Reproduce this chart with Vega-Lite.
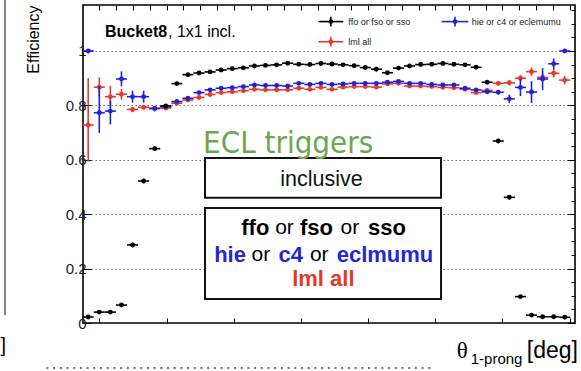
{
  "$schema": "https://vega.github.io/schema/vega-lite/v6.json",
  "width": 492,
  "height": 318,
  "autosize": {"type": "none"},
  "padding": {"left": 83, "top": 5, "right": 6, "bottom": 48},
  "background": "white",
  "config": {
    "view": {"stroke": "#000000", "strokeWidth": 1.6},
    "axis": {"domain": false, "tickColor": "#000000", "tickWidth": 1},
    "font": "Liberation Sans"
  },
  "datasets": {
    "k": [
      {"t":11.65,"t0":10.0,"t1":13.3,"e":0.022,"lo":0.016,"hi":0.028},
      {"t":14.95,"t0":13.3,"t1":16.6,"e":0.040,"lo":0.034,"hi":0.046},
      {"t":18.25,"t0":16.6,"t1":19.9,"e":0.040,"lo":0.034,"hi":0.046},
      {"t":21.55,"t0":19.9,"t1":23.2,"e":0.066,"lo":0.059,"hi":0.073},
      {"t":24.85,"t0":23.2,"t1":26.5,"e":0.287,"lo":0.279,"hi":0.295},
      {"t":28.15,"t0":26.5,"t1":29.8,"e":0.522,"lo":0.514,"hi":0.530},
      {"t":31.45,"t0":29.8,"t1":33.1,"e":0.641,"lo":0.633,"hi":0.649},
      {"t":34.75,"t0":33.1,"t1":36.4,"e":0.798,"lo":0.792,"hi":0.804},
      {"t":38.05,"t0":36.4,"t1":39.7,"e":0.880,"lo":0.875,"hi":0.885},
      {"t":41.35,"t0":39.7,"t1":43.0,"e":0.913,"lo":0.909,"hi":0.917},
      {"t":44.65,"t0":43.0,"t1":46.3,"e":0.919,"lo":0.915,"hi":0.923},
      {"t":47.95,"t0":46.3,"t1":49.6,"e":0.923,"lo":0.919,"hi":0.927},
      {"t":51.25,"t0":49.6,"t1":52.9,"e":0.930,"lo":0.926,"hi":0.934},
      {"t":54.55,"t0":52.9,"t1":56.2,"e":0.935,"lo":0.931,"hi":0.939},
      {"t":57.85,"t0":56.2,"t1":59.5,"e":0.938,"lo":0.934,"hi":0.942},
      {"t":61.15,"t0":59.5,"t1":62.8,"e":0.945,"lo":0.941,"hi":0.949},
      {"t":64.45,"t0":62.8,"t1":66.1,"e":0.947,"lo":0.943,"hi":0.951},
      {"t":67.75,"t0":66.1,"t1":69.4,"e":0.949,"lo":0.945,"hi":0.953},
      {"t":71.05,"t0":69.4,"t1":72.7,"e":0.955,"lo":0.951,"hi":0.959},
      {"t":74.35,"t0":72.7,"t1":76.0,"e":0.951,"lo":0.947,"hi":0.955},
      {"t":77.65,"t0":76.0,"t1":79.3,"e":0.950,"lo":0.946,"hi":0.954},
      {"t":80.95,"t0":79.3,"t1":82.6,"e":0.954,"lo":0.950,"hi":0.958},
      {"t":84.25,"t0":82.6,"t1":85.9,"e":0.952,"lo":0.948,"hi":0.956},
      {"t":87.55,"t0":85.9,"t1":89.2,"e":0.949,"lo":0.945,"hi":0.953},
      {"t":90.85,"t0":89.2,"t1":92.5,"e":0.946,"lo":0.942,"hi":0.950},
      {"t":94.15,"t0":92.5,"t1":95.8,"e":0.939,"lo":0.935,"hi":0.943},
      {"t":97.45,"t0":95.8,"t1":99.1,"e":0.933,"lo":0.929,"hi":0.937},
      {"t":100.75,"t0":99.1,"t1":102.4,"e":0.920,"lo":0.916,"hi":0.924},
      {"t":104.05,"t0":102.4,"t1":105.7,"e":0.937,"lo":0.933,"hi":0.941},
      {"t":107.35,"t0":105.7,"t1":109.0,"e":0.945,"lo":0.941,"hi":0.949},
      {"t":110.65,"t0":109.0,"t1":112.3,"e":0.950,"lo":0.946,"hi":0.954},
      {"t":113.95,"t0":112.3,"t1":115.6,"e":0.951,"lo":0.947,"hi":0.955},
      {"t":117.25,"t0":115.6,"t1":118.9,"e":0.954,"lo":0.950,"hi":0.958},
      {"t":120.55,"t0":118.9,"t1":122.2,"e":0.951,"lo":0.947,"hi":0.955},
      {"t":123.85,"t0":122.2,"t1":125.5,"e":0.949,"lo":0.945,"hi":0.953},
      {"t":127.15,"t0":125.5,"t1":128.8,"e":0.940,"lo":0.936,"hi":0.944},
      {"t":130.45,"t0":128.8,"t1":132.1,"e":0.885,"lo":0.879,"hi":0.891},
      {"t":133.75,"t0":132.1,"t1":135.4,"e":0.669,"lo":0.661,"hi":0.677},
      {"t":137.05,"t0":135.4,"t1":138.7,"e":0.462,"lo":0.454,"hi":0.470},
      {"t":140.35,"t0":138.7,"t1":142.0,"e":0.097,"lo":0.091,"hi":0.103},
      {"t":143.65,"t0":142.0,"t1":145.3,"e":0.029,"lo":0.024,"hi":0.034},
      {"t":146.95,"t0":145.3,"t1":148.6,"e":0.023,"lo":0.018,"hi":0.028},
      {"t":150.25,"t0":148.6,"t1":151.9,"e":0.023,"lo":0.018,"hi":0.028},
      {"t":153.55,"t0":151.9,"t1":155.2,"e":0.021,"lo":0.016,"hi":0.026}
    ],
    "b": [
      {"t":11.65,"t0":10.0,"t1":13.3,"e":1.000,"lo":1.000,"hi":1.000},
      {"t":14.95,"t0":13.3,"t1":16.6,"e":0.773,"lo":0.698,"hi":0.871},
      {"t":18.25,"t0":16.6,"t1":19.9,"e":0.779,"lo":0.730,"hi":0.818},
      {"t":21.55,"t0":19.9,"t1":23.2,"e":0.897,"lo":0.870,"hi":0.925},
      {"t":24.85,"t0":23.2,"t1":26.5,"e":0.832,"lo":0.810,"hi":0.854},
      {"t":28.15,"t0":26.5,"t1":29.8,"e":0.832,"lo":0.810,"hi":0.854},
      {"t":31.45,"t0":29.8,"t1":33.1,"e":0.788,"lo":0.778,"hi":0.798},
      {"t":34.75,"t0":33.1,"t1":36.4,"e":0.795,"lo":0.789,"hi":0.801},
      {"t":38.05,"t0":36.4,"t1":39.7,"e":0.814,"lo":0.809,"hi":0.819},
      {"t":41.35,"t0":39.7,"t1":43.0,"e":0.826,"lo":0.822,"hi":0.830},
      {"t":44.65,"t0":43.0,"t1":46.3,"e":0.847,"lo":0.843,"hi":0.851},
      {"t":47.95,"t0":46.3,"t1":49.6,"e":0.857,"lo":0.853,"hi":0.861},
      {"t":51.25,"t0":49.6,"t1":52.9,"e":0.863,"lo":0.859,"hi":0.867},
      {"t":54.55,"t0":52.9,"t1":56.2,"e":0.865,"lo":0.861,"hi":0.869},
      {"t":57.85,"t0":56.2,"t1":59.5,"e":0.869,"lo":0.865,"hi":0.873},
      {"t":61.15,"t0":59.5,"t1":62.8,"e":0.875,"lo":0.871,"hi":0.879},
      {"t":64.45,"t0":62.8,"t1":66.1,"e":0.873,"lo":0.869,"hi":0.877},
      {"t":67.75,"t0":66.1,"t1":69.4,"e":0.873,"lo":0.869,"hi":0.877},
      {"t":71.05,"t0":69.4,"t1":72.7,"e":0.871,"lo":0.867,"hi":0.875},
      {"t":74.35,"t0":72.7,"t1":76.0,"e":0.881,"lo":0.877,"hi":0.885},
      {"t":77.65,"t0":76.0,"t1":79.3,"e":0.877,"lo":0.873,"hi":0.881},
      {"t":80.95,"t0":79.3,"t1":82.6,"e":0.881,"lo":0.877,"hi":0.885},
      {"t":84.25,"t0":82.6,"t1":85.9,"e":0.877,"lo":0.873,"hi":0.881},
      {"t":87.55,"t0":85.9,"t1":89.2,"e":0.879,"lo":0.875,"hi":0.883},
      {"t":90.85,"t0":89.2,"t1":92.5,"e":0.881,"lo":0.877,"hi":0.885},
      {"t":94.15,"t0":92.5,"t1":95.8,"e":0.881,"lo":0.877,"hi":0.885},
      {"t":97.45,"t0":95.8,"t1":99.1,"e":0.881,"lo":0.877,"hi":0.885},
      {"t":100.75,"t0":99.1,"t1":102.4,"e":0.885,"lo":0.881,"hi":0.889},
      {"t":104.05,"t0":102.4,"t1":105.7,"e":0.888,"lo":0.884,"hi":0.892},
      {"t":107.35,"t0":105.7,"t1":109.0,"e":0.881,"lo":0.877,"hi":0.885},
      {"t":110.65,"t0":109.0,"t1":112.3,"e":0.881,"lo":0.877,"hi":0.885},
      {"t":113.95,"t0":112.3,"t1":115.6,"e":0.877,"lo":0.873,"hi":0.881},
      {"t":117.25,"t0":115.6,"t1":118.9,"e":0.875,"lo":0.871,"hi":0.879},
      {"t":120.55,"t0":118.9,"t1":122.2,"e":0.875,"lo":0.871,"hi":0.879},
      {"t":123.85,"t0":122.2,"t1":125.5,"e":0.863,"lo":0.859,"hi":0.867},
      {"t":127.15,"t0":125.5,"t1":128.8,"e":0.857,"lo":0.852,"hi":0.862},
      {"t":130.45,"t0":128.8,"t1":132.1,"e":0.850,"lo":0.844,"hi":0.856},
      {"t":133.75,"t0":132.1,"t1":135.4,"e":0.848,"lo":0.840,"hi":0.856},
      {"t":137.05,"t0":135.4,"t1":138.7,"e":0.824,"lo":0.809,"hi":0.839},
      {"t":140.35,"t0":138.7,"t1":142.0,"e":0.866,"lo":0.834,"hi":0.898},
      {"t":143.65,"t0":142.0,"t1":145.3,"e":0.849,"lo":0.809,"hi":0.889},
      {"t":146.95,"t0":145.3,"t1":148.6,"e":0.897,"lo":0.857,"hi":0.937},
      {"t":150.25,"t0":148.6,"t1":151.9,"e":0.953,"lo":0.933,"hi":0.973},
      {"t":153.55,"t0":151.9,"t1":155.2,"e":1.000,"lo":1.000,"hi":1.000}
    ],
    "r": [
      {"t":11.65,"t0":10.0,"t1":13.3,"e":0.728,"lo":0.593,"hi":0.900},
      {"t":14.95,"t0":13.3,"t1":16.6,"e":0.867,"lo":0.832,"hi":0.903},
      {"t":18.25,"t0":16.6,"t1":19.9,"e":0.832,"lo":0.792,"hi":0.872},
      {"t":21.55,"t0":19.9,"t1":23.2,"e":0.841,"lo":0.821,"hi":0.861},
      {"t":24.85,"t0":23.2,"t1":26.5,"e":0.785,"lo":0.775,"hi":0.795},
      {"t":28.15,"t0":26.5,"t1":29.8,"e":0.793,"lo":0.785,"hi":0.801},
      {"t":31.45,"t0":29.8,"t1":33.1,"e":0.790,"lo":0.784,"hi":0.796},
      {"t":34.75,"t0":33.1,"t1":36.4,"e":0.790,"lo":0.785,"hi":0.795},
      {"t":38.05,"t0":36.4,"t1":39.7,"e":0.808,"lo":0.804,"hi":0.812},
      {"t":41.35,"t0":39.7,"t1":43.0,"e":0.820,"lo":0.816,"hi":0.824},
      {"t":44.65,"t0":43.0,"t1":46.3,"e":0.829,"lo":0.825,"hi":0.833},
      {"t":47.95,"t0":46.3,"t1":49.6,"e":0.840,"lo":0.836,"hi":0.844},
      {"t":51.25,"t0":49.6,"t1":52.9,"e":0.847,"lo":0.843,"hi":0.851},
      {"t":54.55,"t0":52.9,"t1":56.2,"e":0.850,"lo":0.846,"hi":0.854},
      {"t":57.85,"t0":56.2,"t1":59.5,"e":0.854,"lo":0.850,"hi":0.858},
      {"t":61.15,"t0":59.5,"t1":62.8,"e":0.859,"lo":0.855,"hi":0.863},
      {"t":64.45,"t0":62.8,"t1":66.1,"e":0.857,"lo":0.853,"hi":0.861},
      {"t":67.75,"t0":66.1,"t1":69.4,"e":0.857,"lo":0.853,"hi":0.861},
      {"t":71.05,"t0":69.4,"t1":72.7,"e":0.857,"lo":0.853,"hi":0.861},
      {"t":74.35,"t0":72.7,"t1":76.0,"e":0.863,"lo":0.859,"hi":0.867},
      {"t":77.65,"t0":76.0,"t1":79.3,"e":0.859,"lo":0.855,"hi":0.863},
      {"t":80.95,"t0":79.3,"t1":82.6,"e":0.866,"lo":0.862,"hi":0.870},
      {"t":84.25,"t0":82.6,"t1":85.9,"e":0.859,"lo":0.855,"hi":0.863},
      {"t":87.55,"t0":85.9,"t1":89.2,"e":0.867,"lo":0.863,"hi":0.871},
      {"t":90.85,"t0":89.2,"t1":92.5,"e":0.869,"lo":0.865,"hi":0.873},
      {"t":94.15,"t0":92.5,"t1":95.8,"e":0.869,"lo":0.865,"hi":0.873},
      {"t":97.45,"t0":95.8,"t1":99.1,"e":0.867,"lo":0.863,"hi":0.871},
      {"t":100.75,"t0":99.1,"t1":102.4,"e":0.879,"lo":0.875,"hi":0.883},
      {"t":104.05,"t0":102.4,"t1":105.7,"e":0.881,"lo":0.877,"hi":0.885},
      {"t":107.35,"t0":105.7,"t1":109.0,"e":0.871,"lo":0.867,"hi":0.875},
      {"t":110.65,"t0":109.0,"t1":112.3,"e":0.871,"lo":0.867,"hi":0.875},
      {"t":113.95,"t0":112.3,"t1":115.6,"e":0.869,"lo":0.865,"hi":0.873},
      {"t":117.25,"t0":115.6,"t1":118.9,"e":0.866,"lo":0.862,"hi":0.870},
      {"t":120.55,"t0":118.9,"t1":122.2,"e":0.865,"lo":0.861,"hi":0.869},
      {"t":123.85,"t0":122.2,"t1":125.5,"e":0.859,"lo":0.855,"hi":0.863},
      {"t":127.15,"t0":125.5,"t1":128.8,"e":0.847,"lo":0.842,"hi":0.852},
      {"t":130.45,"t0":128.8,"t1":132.1,"e":0.855,"lo":0.849,"hi":0.861},
      {"t":133.75,"t0":132.1,"t1":135.4,"e":0.881,"lo":0.873,"hi":0.889},
      {"t":137.05,"t0":135.4,"t1":138.7,"e":0.883,"lo":0.873,"hi":0.893},
      {"t":140.35,"t0":138.7,"t1":142.0,"e":0.900,"lo":0.888,"hi":0.912},
      {"t":143.65,"t0":142.0,"t1":145.3,"e":0.924,"lo":0.909,"hi":0.939},
      {"t":146.95,"t0":145.3,"t1":148.6,"e":0.903,"lo":0.888,"hi":0.918},
      {"t":150.25,"t0":148.6,"t1":151.9,"e":0.918,"lo":0.903,"hi":0.933},
      {"t":153.55,"t0":151.9,"t1":155.2,"e":0.893,"lo":0.878,"hi":0.908}
    ]
  },
  "resolve": {"axis": {"x": "independent", "y": "independent"}},
  "layer": [
    {
      "layer": [
        {
          "data": {"name": "r"},
          "mark": {"type": "rule", "color": "#e63a30", "strokeWidth": 1.6},
          "encoding": {
            "x": {"field": "t0", "type": "quantitative",
              "scale": {"domain": [10.1, 156.6], "nice": false, "zero": false},
              "axis": {"orient": "bottom", "values": [15,20,25,30,35,40,45,50,55,60,65,70,75,80,85,90,95,100,105,110,115,120,125,130,135,140,145,150,155],
                "labels": false, "grid": false, "tickSize": -5, "title": null}},
            "x2": {"field": "t1"},
            "y": {"field": "e", "type": "quantitative",
              "scale": {"domain": [0, 1.169], "nice": false, "zero": false},
              "axis": {"orient": "left",
                "values": [0,0.05,0.1,0.15,0.2,0.25,0.3,0.35,0.4,0.45,0.5,0.55,0.6,0.65,0.7,0.75,0.8,0.85,0.9,0.95,1,1.05,1.1,1.15],
                "labelExpr": "abs(datum.value*5 - round(datum.value*5)) < 0.001 ? format(datum.value, '~g') : ''",
                "labelFontSize": 15, "labelColor": "#1a1a1a", "labelPadding": 5,
                "tickSize": {"condition": {"test": "abs(datum.value*5 - round(datum.value*5)) < 0.001", "value": -8}, "value": -4},
                "grid": true, "gridColor": "#777777", "gridDash": [1.5, 2.5], "gridWidth": 1,
                "gridOpacity": {"condition": {"test": "abs(datum.value*10 - round(datum.value*10)) < 0.001 && datum.value > 0.05 && datum.value < 1.05", "value": 1}, "value": 0},
                "title": "Efficiency", "titleFontSize": 16, "titleFontWeight": "normal", "titleColor": "#000000",
                "titleAnchor": "end", "titlePadding": 24}}
          }
        },
        {
          "data": {"name": "r"},
          "mark": {"type": "rule", "color": "#e63a30", "strokeWidth": 1.6},
          "encoding": {"x": {"field": "t", "type": "quantitative"}, "y": {"field": "lo", "type": "quantitative"}, "y2": {"field": "hi"}}
        },
        {
          "data": {"name": "r"},
          "mark": {"type": "point", "filled": true, "size": 24, "opacity": 1, "color": "#e63a30"},
          "encoding": {"x": {"field": "t", "type": "quantitative"}, "y": {"field": "e", "type": "quantitative"}}
        },
        {
          "data": {"name": "b"},
          "mark": {"type": "rule", "color": "#1f22d8", "strokeWidth": 1.6},
          "encoding": {"x": {"field": "t0", "type": "quantitative"}, "x2": {"field": "t1"}, "y": {"field": "e", "type": "quantitative"}}
        },
        {
          "data": {"name": "b"},
          "mark": {"type": "rule", "color": "#1f22d8", "strokeWidth": 1.6},
          "encoding": {"x": {"field": "t", "type": "quantitative"}, "y": {"field": "lo", "type": "quantitative"}, "y2": {"field": "hi"}}
        },
        {
          "data": {"name": "b"},
          "mark": {"type": "point", "filled": true, "size": 24, "opacity": 1, "color": "#1f22d8"},
          "encoding": {"x": {"field": "t", "type": "quantitative"}, "y": {"field": "e", "type": "quantitative"}}
        },
        {
          "data": {"name": "k"},
          "mark": {"type": "rule", "color": "#000000", "strokeWidth": 1.6},
          "encoding": {"x": {"field": "t0", "type": "quantitative"}, "x2": {"field": "t1"}, "y": {"field": "e", "type": "quantitative"}}
        },
        {
          "data": {"name": "k"},
          "mark": {"type": "rule", "color": "#000000", "strokeWidth": 1.6},
          "encoding": {"x": {"field": "t", "type": "quantitative"}, "y": {"field": "lo", "type": "quantitative"}, "y2": {"field": "hi"}}
        },
        {
          "data": {"name": "k"},
          "mark": {"type": "point", "filled": true, "size": 24, "opacity": 1, "color": "#000000"},
          "encoding": {"x": {"field": "t", "type": "quantitative"}, "y": {"field": "e", "type": "quantitative"}}
        },
        {
          "data": {"values": [{}]},
          "mark": {"type": "rect", "fill": "white", "stroke": "#111111", "strokeWidth": 2},
          "encoding": {"x": {"datum": 46.43}, "x2": {"datum": 116.71}, "y": {"datum": 0.607}, "y2": {"datum": 0.460}}
        },
        {
          "data": {"values": [{}]},
          "mark": {"type": "rect", "fill": "white", "stroke": "#111111", "strokeWidth": 2},
          "encoding": {"x": {"datum": 46.43}, "x2": {"datum": 116.71}, "y": {"datum": 0.423}, "y2": {"datum": 0.088}}
        },
        {
          "data": {"values": [{}]},
          "mark": {"type": "text", "text": "inclusive", "fontSize": 21.5, "color": "#111111", "align": "center", "baseline": "middle"},
          "encoding": {"x": {"datum": 81.1}, "y": {"datum": 0.526}}
        },
        {
          "data": {"values": [{}]},
          "mark": {"type": "text", "text": "ffo", "fontSize": 22, "fontWeight": "bold", "color": "#000000", "align": "center", "baseline": "middle"},
          "encoding": {"x": {"datum": 61.41}, "y": {"datum": 0.349}}
        },
        {
          "data": {"values": [{}]},
          "mark": {"type": "text", "text": "or", "fontSize": 21, "color": "#000000", "align": "center", "baseline": "middle"},
          "encoding": {"x": {"datum": 70.11}, "y": {"datum": 0.349}}
        },
        {
          "data": {"values": [{}]},
          "mark": {"type": "text", "text": "fso", "fontSize": 22, "fontWeight": "bold", "color": "#000000", "align": "center", "baseline": "middle"},
          "encoding": {"x": {"datum": 79.64}, "y": {"datum": 0.349}}
        },
        {
          "data": {"values": [{}]},
          "mark": {"type": "text", "text": "or", "fontSize": 21, "color": "#000000", "align": "center", "baseline": "middle"},
          "encoding": {"x": {"datum": 89.56}, "y": {"datum": 0.349}}
        },
        {
          "data": {"values": [{}]},
          "mark": {"type": "text", "text": "sso", "fontSize": 22, "fontWeight": "bold", "color": "#000000", "align": "center", "baseline": "middle"},
          "encoding": {"x": {"datum": 100.63}, "y": {"datum": 0.349}}
        },
        {
          "data": {"values": [{}]},
          "mark": {"type": "text", "text": "hie", "fontSize": 22, "fontWeight": "bold", "color": "#1f2ad0", "align": "center", "baseline": "middle"},
          "encoding": {"x": {"datum": 53.88}, "y": {"datum": 0.250}}
        },
        {
          "data": {"values": [{}]},
          "mark": {"type": "text", "text": "or", "fontSize": 21, "color": "#000000", "align": "center", "baseline": "middle"},
          "encoding": {"x": {"datum": 63.05}, "y": {"datum": 0.250}}
        },
        {
          "data": {"values": [{}]},
          "mark": {"type": "text", "text": "c4", "fontSize": 22, "fontWeight": "bold", "color": "#1f2ad0", "align": "center", "baseline": "middle"},
          "encoding": {"x": {"datum": 71.98}, "y": {"datum": 0.250}}
        },
        {
          "data": {"values": [{}]},
          "mark": {"type": "text", "text": "or", "fontSize": 21, "color": "#000000", "align": "center", "baseline": "middle"},
          "encoding": {"x": {"datum": 80.44}, "y": {"datum": 0.250}}
        },
        {
          "data": {"values": [{}]},
          "mark": {"type": "text", "text": "eclmumu", "fontSize": 22, "fontWeight": "bold", "color": "#1f2ad0", "align": "center", "baseline": "middle"},
          "encoding": {"x": {"datum": 100.03}, "y": {"datum": 0.250}}
        },
        {
          "data": {"values": [{}]},
          "mark": {"type": "text", "text": "lml all", "fontSize": 22, "fontWeight": "bold", "color": "#e03a2e", "align": "center", "baseline": "middle"},
          "encoding": {"x": {"datum": 81.66}, "y": {"datum": 0.162}}
        },
        {
          "data": {"values": [{}]},
          "mark": {"type": "text", "text": "ECL triggers", "font": "DejaVu Sans Condensed, Liberation Sans, sans-serif", "fontSize": 31, "color": "#6aa84f", "align": "left", "baseline": "alphabetic"},
          "encoding": {"x": {"datum": 45.84}, "y": {"datum": 0.625}}
        },
        {
          "data": {"values": [{}]},
          "mark": {"type": "text", "text": "Bucket8", "fontSize": 16, "fontWeight": "bold", "color": "#000000", "align": "left", "baseline": "middle"},
          "encoding": {"x": {"datum": 16.65}, "y": {"datum": 1.071}}
        },
        {
          "data": {"values": [{}]},
          "mark": {"type": "text", "text": ", 1x1 incl.", "fontSize": 16, "color": "#000000", "align": "left", "baseline": "middle"},
          "encoding": {"x": {"datum": 35.41}, "y": {"datum": 1.071}}
        },
        {
          "data": {"values": [{}]},
          "mark": {"type": "rule", "color": "#000000", "strokeWidth": 1.6},
          "encoding": {"x": {"datum": 80.17}, "x2": {"datum": 87.62}, "y": {"datum": 1.108}}
        },
        {
          "data": {"values": [{}]},
          "mark": {"type": "rule", "color": "#000000", "strokeWidth": 1.6},
          "encoding": {"x": {"datum": 83.9}, "y": {"datum": 1.09}, "y2": {"datum": 1.126}}
        },
        {
          "data": {"values": [{}]},
          "mark": {"type": "point", "filled": true, "size": 24, "opacity": 1, "color": "#000000"},
          "encoding": {"x": {"datum": 83.9}, "y": {"datum": 1.108}}
        },
        {
          "data": {"values": [{}]},
          "mark": {"type": "text", "text": "ffo or fso or sso", "fontSize": 9, "color": "#222222", "align": "left", "baseline": "middle"},
          "encoding": {"x": {"datum": 89.1}, "y": {"datum": 1.108}}
        },
        {
          "data": {"values": [{}]},
          "mark": {"type": "rule", "color": "#e63a30", "strokeWidth": 1.6},
          "encoding": {"x": {"datum": 80.17}, "x2": {"datum": 87.62}, "y": {"datum": 1.034}}
        },
        {
          "data": {"values": [{}]},
          "mark": {"type": "rule", "color": "#e63a30", "strokeWidth": 1.6},
          "encoding": {"x": {"datum": 83.9}, "y": {"datum": 1.016}, "y2": {"datum": 1.052}}
        },
        {
          "data": {"values": [{}]},
          "mark": {"type": "point", "filled": true, "size": 24, "opacity": 1, "color": "#e63a30"},
          "encoding": {"x": {"datum": 83.9}, "y": {"datum": 1.034}}
        },
        {
          "data": {"values": [{}]},
          "mark": {"type": "text", "text": "lml all", "fontSize": 9, "color": "#222222", "align": "left", "baseline": "middle"},
          "encoding": {"x": {"datum": 89.1}, "y": {"datum": 1.034}}
        },
        {
          "data": {"values": [{}]},
          "mark": {"type": "rule", "color": "#1f22d8", "strokeWidth": 1.6},
          "encoding": {"x": {"datum": 116.92}, "x2": {"datum": 124.84}, "y": {"datum": 1.108}}
        },
        {
          "data": {"values": [{}]},
          "mark": {"type": "rule", "color": "#1f22d8", "strokeWidth": 1.6},
          "encoding": {"x": {"datum": 120.88}, "y": {"datum": 1.09}, "y2": {"datum": 1.126}}
        },
        {
          "data": {"values": [{}]},
          "mark": {"type": "point", "filled": true, "size": 24, "opacity": 1, "color": "#1f22d8"},
          "encoding": {"x": {"datum": 120.88}, "y": {"datum": 1.108}}
        },
        {
          "data": {"values": [{}]},
          "mark": {"type": "text", "text": "hie or c4 or eclemumu", "fontSize": 9, "color": "#222222", "align": "left", "baseline": "middle"},
          "encoding": {"x": {"datum": 125.85}, "y": {"datum": 1.108}}
        },
        {
          "data": {"values": [{}]},
          "mark": {"type": "text", "text": "θ", "font": "Liberation Serif", "fontSize": 23, "color": "#000000", "align": "left", "baseline": "alphabetic"},
          "encoding": {"x": {"datum": 121.38}, "y": {"datum": -0.129}}
        },
        {
          "data": {"values": [{}]},
          "mark": {"type": "text", "text": "1-prong", "fontSize": 15, "color": "#000000", "align": "left", "baseline": "alphabetic"},
          "encoding": {"x": {"datum": 125.55}, "y": {"datum": -0.151}}
        },
        {
          "data": {"values": [{}]},
          "mark": {"type": "text", "text": "[deg]", "fontSize": 23, "color": "#000000", "align": "left", "baseline": "alphabetic"},
          "encoding": {"x": {"datum": 142.23}, "y": {"datum": -0.129}}
        },
        {
          "data": {"values": [{}]},
          "mark": {"type": "rule", "color": "#444444", "strokeWidth": 1.5, "strokeDash": [2, 4.7]},
          "encoding": {"x": {"datum": -0.8}, "x2": {"datum": 113.8}, "y": {"datum": -0.165}}
        },
        {
          "data": {"values": [{}]},
          "mark": {"type": "rule", "color": "#333333", "strokeWidth": 1.2},
          "encoding": {"x": {"datum": -13.13}, "y": {"datum": 0.029}, "y2": {"datum": 1.19}}
        },
        {
          "data": {"values": [{}]},
          "mark": {"type": "text", "text": "]", "fontSize": 20, "color": "#000000", "align": "right", "baseline": "alphabetic"},
          "encoding": {"x": {"datum": -12.83}, "y": {"datum": -0.107}}
        }
      ]
    },
    {
      "data": {"name": "k"},
      "mark": {"type": "point", "opacity": 0},
      "encoding": {
        "x": {"field": "t", "type": "quantitative",
          "axis": {"orient": "top", "values": [15,20,25,30,35,40,45,50,55,60,65,70,75,80,85,90,95,100,105,110,115,120,125,130,135,140,145,150,155],
            "labels": false, "grid": false, "tickSize": -5, "title": null}},
        "y": {"field": "e", "type": "quantitative",
          "axis": {"orient": "right",
            "values": [0,0.05,0.1,0.15,0.2,0.25,0.3,0.35,0.4,0.45,0.5,0.55,0.6,0.65,0.7,0.75,0.8,0.85,0.9,0.95,1,1.05,1.1,1.15],
            "labels": false, "grid": false,
            "tickSize": {"condition": {"test": "abs(datum.value*5 - round(datum.value*5)) < 0.001", "value": -8}, "value": -4},
            "title": null}}
      }
    }
  ]
}
